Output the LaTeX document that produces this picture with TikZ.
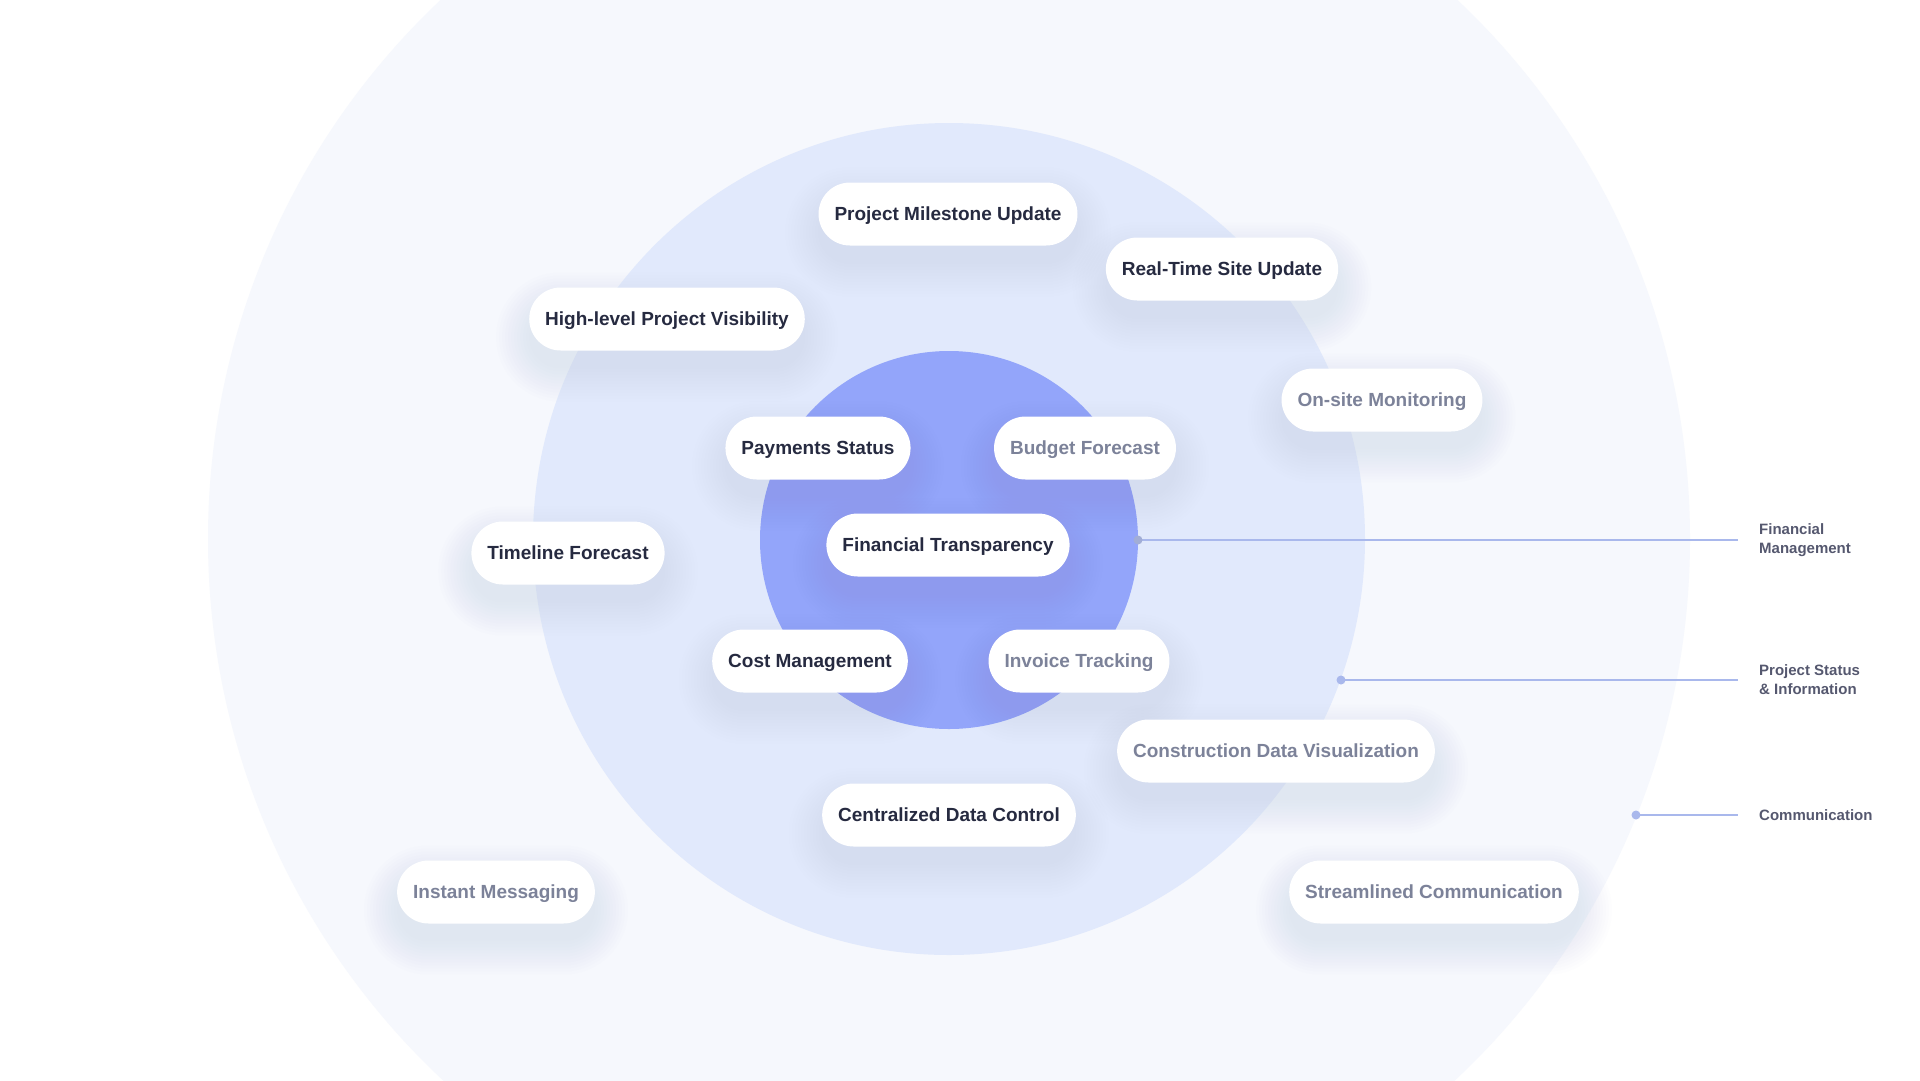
\documentclass[tikz,border=0pt]{standalone}
\usepackage{fontspec}
\setmainfont{Liberation Sans}
\usetikzlibrary{calc}
\definecolor{outerc}{HTML}{F6F8FD}
\definecolor{midc}{HTML}{E1E9FC}
\definecolor{innerc}{HTML}{93A5FA}
\definecolor{darkt}{HTML}{262A40}
\definecolor{grayt}{HTML}{7C8299}
\definecolor{labelt}{HTML}{55586F}
\definecolor{linec}{HTML}{A9B8EC}
\definecolor{shadc}{HTML}{8E9AC4}
\pgfdeclarelayer{back}
\pgfdeclarelayer{shadow}
\pgfsetlayers{back,shadow,main}
\tikzset{
  pill/.style={rectangle, rounded corners=31.5pt, fill=white, minimum height=63pt,
    inner xsep=16pt, inner ysep=0pt, text height=13.6pt, text depth=0pt,
    font=\fontsize{19}{22}\selectfont\bfseries},
  darkpill/.style={pill, text=darkt},
  graypill/.style={pill, text=grayt},
  sidelabel/.style={anchor=west, align=left, text=labelt, inner sep=0pt,
    font=\fontsize{15}{19}\selectfont\bfseries},
  leader/.style={draw=linec, line width=2pt},
  dotc/.style={circle, fill=linec, inner sep=0pt, minimum size=9pt}
}
\begin{document}
\begin{tikzpicture}[x=1pt,y=-1pt]
\useasboundingbox (0,0) rectangle (1920,1080);
\begin{pgfonlayer}{back}
  \begin{scope}
    \clip (0,0) rectangle (1920,1080);
    \fill[white] (0,0) rectangle (1920,1080);
    \fill[outerc] (949,539) circle[radius=741];
    \fill[midc] (949,539) circle[radius=416];
    \fill[innerc] (949,540) circle[radius=189];
  \end{scope}
\end{pgfonlayer}

% pills
\node[darkpill] (pm) at (948,214) {Project Milestone Update};
\node[darkpill] (rt) at (1222,269) {Real-Time Site Update};
\node[darkpill] (hl) at (667,319) {High-level Project Visibility};
\node[graypill] (os) at (1382,400) {On-site Monitoring};
\node[darkpill] (ps) at (818,448) {Payments Status};
\node[graypill] (bf) at (1085,448) {Budget Forecast};
\node[darkpill] (ft) at (948,545) {Financial Transparency};
\node[darkpill] (tf) at (568,553) {Timeline Forecast};
\node[darkpill] (cm) at (810,661) {Cost Management};
\node[graypill] (it) at (1079,661) {Invoice Tracking};
\node[graypill] (cd) at (1276,751) {Construction Data Visualization};
\node[darkpill] (cc) at (949,815) {Centralized Data Control};
\node[graypill] (im) at (496,892) {Instant Messaging};
\node[graypill] (sc) at (1434,892) {Streamlined Communication};

% shadows
\begin{pgfonlayer}{shadow}
  \foreach \n in {pm,rt,hl,os,ps,bf,ft,tf,cm,it,cd,cc,im,sc}{
    \foreach \k in {0,...,11}{
      \fill[shadc, opacity=0.011, rounded corners={31.5pt+3pt*\k}]
        ($(\n.north west)+(-3*\k,18-3*\k)$) rectangle ($(\n.south east)+(3*\k,18+3*\k)$);
    }
  }
\end{pgfonlayer}

% side labels and leaders
\coordinate (d1) at (1138,540);
\coordinate (d2) at (1341,680);
\coordinate (d3) at (1636,815);
\coordinate (e1) at (1738,540);
\coordinate (e2) at (1738,680);
\coordinate (e3) at (1738,815);
\draw[leader] (d1) -- (e1);
\draw[leader] (d2) -- (e2);
\draw[leader] (d3) -- (e3);
\node[dotc, fill=linec!80!gray] (p1) at (d1) {};
\node[dotc] (p2) at (d2) {};
\node[dotc] (p3) at (d3) {};
\node[sidelabel] (l1) at (1759,540) {Financial\\Management};
\node[sidelabel] (l2) at (1759,680) {Project Status\\\& Information};
\node[sidelabel] (l3) at (1759,815) {Communication};
\end{tikzpicture}
\end{document}
